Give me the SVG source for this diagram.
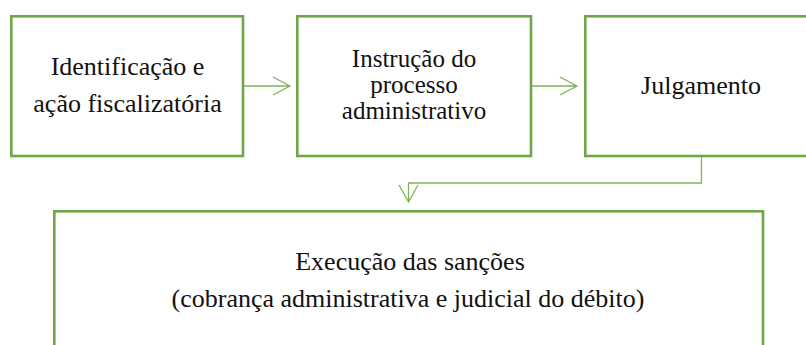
<svg xmlns="http://www.w3.org/2000/svg" width="806" height="345" viewBox="0 0 806 345">
<style>
.box{fill:#ffffff;stroke:#6FA646;stroke-width:2.6}
.con{fill:none;stroke:#7DB556;stroke-width:1.3}
text{font-family:'Liberation Serif','Times New Roman','DejaVu Serif',serif;font-size:26px;fill:#111;text-anchor:middle}
.s{font-size:25px}
</style>
<rect width="806" height="345" fill="#ffffff"/>
<g id="connectors">
<path class="con" d="M243,86 H290 M273,77 L290,86 L273,95"/>
<path class="con" d="M531,86 H577 M560,77 L577,86 L560,95"/>
<path class="con" d="M701.5,156 V183 H408.5 V202 M399,185 L408.5,202 L418,185"/>
</g>
<g id="n1">
<rect class="box" x="11.3" y="16.3" width="231.7" height="139.7"/>
<text x="127.5" y="75" font-family="Liberation Serif, serif">Identificação e</text>
<text x="127.5" y="112" font-family="Liberation Serif, serif">ação fiscalizatória</text>
</g>
<g id="n2">
<rect class="box" x="297.3" y="16.3" width="233.7" height="139.7"/>
<text class="s" x="414" y="66.5" font-family="Liberation Serif, serif">Instrução do</text>
<text class="s" x="414" y="92.5" font-family="Liberation Serif, serif">processo</text>
<text class="s" x="414" y="118.5" font-family="Liberation Serif, serif">administrativo</text>
</g>
<g id="n3">
<rect class="box" x="585.3" y="16.3" width="240" height="139.7"/>
<text x="701" y="94" font-family="Liberation Serif, serif">Julgamento</text>
</g>
<g id="n4">
<rect class="box" x="54.3" y="211.3" width="708.7" height="160"/>
<text x="410" y="270" font-family="Liberation Serif, serif">Execução das sanções</text>
<text x="408" y="307" font-family="Liberation Serif, serif">(cobrança administrativa e judicial do débito)</text>
</g>
</svg>
